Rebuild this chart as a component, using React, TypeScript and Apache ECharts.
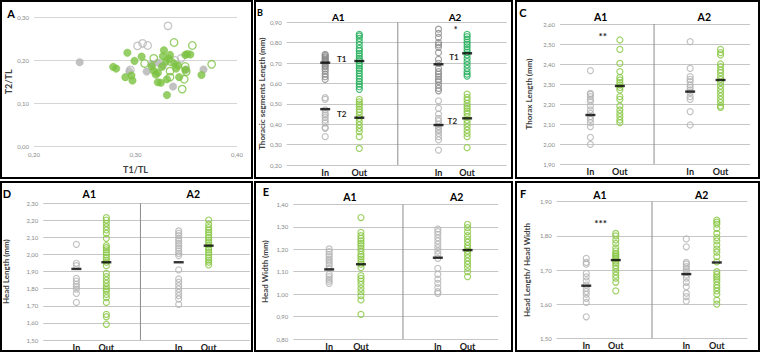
import React, { useEffect, useRef } from 'react';
import * as echarts from 'echarts';

const FONT = 'Lato, "Open Sans", "DejaVu Sans", sans-serif';
const comma = (v: number) => v.toFixed(2).replace('.', ',');

// ---------- Panel A: T2/TL against T1/TL ----------
const aGreyFilled: number[][] = [
  [0.245, 0.196], [0.294, 0.175], [0.311, 0.174], [0.316, 0.191], [0.322, 0.195],
  [0.337, 0.139], [0.350, 0.179], [0.367, 0.179], [0.327, 0.188],
];
const aGreyOpen: number[][] = [
  [0.332, 0.281], [0.302, 0.234], [0.307, 0.240], [0.312, 0.235], [0.295, 0.178],
  [0.345, 0.205], [0.339, 0.200],
];
const aGreenOpen: number[][] = [
  [0.338, 0.242], [0.356, 0.235], [0.309, 0.193], [0.318, 0.205], [0.335, 0.197],
  [0.334, 0.175], [0.334, 0.161], [0.348, 0.156], [0.346, 0.133], [0.375, 0.191],
  [0.349, 0.186], [0.350, 0.174],
];
const aGreenFilled: number[][] = [
  [0.278, 0.185], [0.281, 0.181], [0.292, 0.218], [0.299, 0.199], [0.290, 0.161],
  [0.296, 0.165], [0.297, 0.153], [0.306, 0.209], [0.318, 0.176], [0.320, 0.167],
  [0.322, 0.171], [0.322, 0.149], [0.325, 0.148], [0.326, 0.185], [0.327, 0.210],
  [0.328, 0.224], [0.330, 0.197], [0.334, 0.213], [0.331, 0.156], [0.331, 0.119],
  [0.338, 0.193], [0.340, 0.181], [0.343, 0.161], [0.349, 0.213], [0.351, 0.215],
  [0.354, 0.214], [0.349, 0.178], [0.365, 0.166], [0.316, 0.186], [0.333, 0.204],
  [0.342, 0.188],
];

// ---------- Panel B: thoracic segment lengths (mm) ----------
const bInA1T1 = [0.743, 0.738, 0.731, 0.725, 0.718, 0.712, 0.707, 0.699, 0.690, 0.682, 0.671, 0.661, 0.646, 0.633, 0.620];
const bInA1T2 = [0.530, 0.522, 0.470, 0.453, 0.445, 0.434, 0.420, 0.407, 0.384, 0.380, 0.339];
const bOutA1T1 = [0.841, 0.833, 0.821, 0.805, 0.789, 0.772, 0.761, 0.748, 0.735, 0.723, 0.712, 0.699, 0.686, 0.674, 0.663, 0.650, 0.636, 0.623, 0.610, 0.597, 0.584, 0.571];
const bOutA1T2 = [0.522, 0.510, 0.499, 0.486, 0.473, 0.460, 0.445, 0.429, 0.413, 0.396, 0.380, 0.364, 0.339, 0.281];
const bInA2T1 = [0.866, 0.846, 0.826, 0.800, 0.789, 0.777, 0.751, 0.718, 0.699, 0.674, 0.658, 0.646, 0.633, 0.620, 0.609, 0.592, 0.576, 0.564];
const bInA2T2 = [0.515, 0.478, 0.450, 0.429, 0.417, 0.401, 0.388, 0.375, 0.368, 0.355, 0.339, 0.323, 0.273];
const bOutA2T1 = [0.841, 0.830, 0.817, 0.803, 0.792, 0.780, 0.767, 0.754, 0.740, 0.723, 0.707, 0.691, 0.674, 0.658, 0.646, 0.636];
const bOutA2T2 = [0.548, 0.532, 0.519, 0.502, 0.489, 0.478, 0.465, 0.453, 0.437, 0.420, 0.404, 0.388, 0.371, 0.355, 0.339, 0.285];
// means in the order In A1, Out A1, In A2, Out A2
const bMeanT1 = [0.702, 0.710, 0.694, 0.748];
const bMeanT2 = [0.474, 0.432, 0.396, 0.429];

// ---------- Panel C: thorax length (mm) ----------
const cInA1 = [2.367, 2.253, 2.248, 2.237, 2.223, 2.212, 2.190, 2.170, 2.153, 2.137, 2.123, 2.107, 2.087, 2.033, 1.998];
const cOutA1 = [2.520, 2.473, 2.403, 2.362, 2.333, 2.320, 2.307, 2.295, 2.283, 2.270, 2.237, 2.223, 2.190, 2.170, 2.153, 2.137, 2.120, 2.107];
const cInA2 = [2.512, 2.378, 2.337, 2.323, 2.312, 2.295, 2.283, 2.270, 2.257, 2.237, 2.223, 2.162, 2.095];
const cOutA2 = [2.473, 2.457, 2.445, 2.400, 2.387, 2.370, 2.357, 2.340, 2.323, 2.307, 2.290, 2.273, 2.257, 2.240, 2.223, 2.207, 2.190, 2.183];
const cMean = [2.145, 2.290, 2.262, 2.320];

// ---------- Panel D: head length (mm) ----------
const dInA1 = [2.060, 1.949, 1.935, 1.861, 1.845, 1.826, 1.812, 1.798, 1.773, 1.720];
const dOutA1 = [2.216, 2.202, 2.183, 2.163, 2.144, 2.124, 2.095, 2.052, 2.040, 2.027, 2.013, 1.998, 1.982, 1.968, 1.955, 1.935, 1.890, 1.871, 1.851, 1.832, 1.812, 1.798, 1.787, 1.767, 1.748, 1.720, 1.650, 1.636, 1.592];
const dInA2 = [2.138, 2.124, 2.111, 2.095, 2.080, 2.066, 2.052, 2.037, 2.021, 2.007, 1.994, 1.910, 1.857, 1.838, 1.818, 1.799, 1.779, 1.760, 1.740, 1.709];
const dOutA2 = [2.202, 2.177, 2.158, 2.144, 2.130, 2.115, 2.099, 2.085, 2.072, 2.056, 2.040, 2.027, 2.013, 1.998, 1.982, 1.968, 1.955, 1.939];
const dMean = [1.916, 1.955, 1.955, 2.052];

// ---------- Panel E: head width (mm) ----------
const eInA1 = [1.201, 1.189, 1.177, 1.167, 1.156, 1.147, 1.137, 1.127, 1.115, 1.088, 1.078, 1.067, 1.058, 1.048];
const eOutA1 = [1.341, 1.275, 1.260, 1.248, 1.237, 1.226, 1.216, 1.204, 1.192, 1.177, 1.167, 1.156, 1.144, 1.133, 1.118, 1.082, 1.070, 1.058, 1.043, 1.026, 1.011, 0.993, 0.974, 0.910];
const eInA2 = [1.290, 1.278, 1.266, 1.251, 1.237, 1.222, 1.207, 1.192, 1.177, 1.159, 1.115, 1.088, 1.067, 1.048, 1.029, 1.011, 1.003];
const eOutA2 = [1.311, 1.296, 1.278, 1.260, 1.245, 1.231, 1.216, 1.204, 1.192, 1.177, 1.162, 1.147, 1.133, 1.118, 1.100, 1.078];
const eMean = [1.110, 1.133, 1.162, 1.196];

// ---------- Panel F: head length / head width ----------
const fInA1 = [1.734, 1.722, 1.717, 1.690, 1.680, 1.668, 1.656, 1.646, 1.637, 1.629, 1.617, 1.605, 1.563];
const fOutA1 = [1.807, 1.800, 1.788, 1.778, 1.765, 1.756, 1.749, 1.744, 1.739, 1.734, 1.726, 1.720, 1.713, 1.705, 1.695, 1.685, 1.676, 1.664, 1.639];
const fInA2 = [1.791, 1.768, 1.722, 1.717, 1.710, 1.703, 1.695, 1.685, 1.676, 1.664, 1.651, 1.632, 1.622, 1.609];
const fOutA2 = [1.846, 1.840, 1.834, 1.822, 1.807, 1.795, 1.785, 1.773, 1.761, 1.752, 1.739, 1.724, 1.695, 1.687, 1.680, 1.674, 1.666, 1.656, 1.648, 1.639, 1.629, 1.612, 1.600];
const fMean = [1.654, 1.729, 1.688, 1.722];

const groupLabels = ['In', 'Out', 'In', 'Out'];

const GREY = '#b3b3b3';
const GREY_DARK = '#8a8a8a';
const GREEN = '#86c540';
const GREEN_DARK = '#1fae58';

type Rect = { left: number; top: number; width: number; height: number };
type Group = { values: number[]; slot: number; color: string };
type DotPanel = {
  grid: Rect;
  yMin: number;
  yMax: number;
  yName: string;
  nameGap: number;
  slots: number[];
  sep: number;
  groups: Group[];
  means: number[][];
};

const dotPanels: DotPanel[] = [
  {
    grid: { left: 286.7, top: 22.3, width: 220, height: 142.7 },
    yMin: 0.2, yMax: 0.9, yName: 'Thoracic segments Length (mm)', nameGap: 20,
    slots: [0.35, 0.66, 1.38, 1.64], sep: 1.01,
    groups: [
      { values: bInA1T1, slot: 0, color: GREY_DARK },
      { values: bInA1T2, slot: 0, color: GREY },
      { values: bOutA1T1, slot: 1, color: GREEN_DARK },
      { values: bOutA1T2, slot: 1, color: GREEN },
      { values: bInA2T1, slot: 2, color: GREY_DARK },
      { values: bInA2T2, slot: 2, color: GREY },
      { values: bOutA2T1, slot: 3, color: GREEN_DARK },
      { values: bOutA2T2, slot: 3, color: GREEN },
    ],
    means: [bMeanT1, bMeanT2],
  },
  {
    grid: { left: 560, top: 24, width: 190, height: 140 },
    yMin: 1.9, yMax: 2.6, yName: 'Thorax Length (mm)', nameGap: 27,
    slots: [0.32, 0.63, 1.37, 1.69], sep: 0.99,
    groups: [
      { values: cInA1, slot: 0, color: GREY },
      { values: cOutA1, slot: 1, color: GREEN },
      { values: cInA2, slot: 2, color: GREY },
      { values: cOutA2, slot: 3, color: GREEN },
    ],
    means: [cMean],
  },
  {
    grid: { left: 43.3, top: 203.3, width: 206.7, height: 136.7 },
    yMin: 1.5, yMax: 2.3, yName: 'Head Length (mm)', nameGap: 33,
    slots: [0.32, 0.61, 1.31, 1.6], sep: 0.94,
    groups: [
      { values: dInA1, slot: 0, color: GREY },
      { values: dOutA1, slot: 1, color: GREEN },
      { values: dInA2, slot: 2, color: GREY },
      { values: dOutA2, slot: 3, color: GREEN },
    ],
    means: [dMean],
  },
  {
    grid: { left: 293.3, top: 204.3, width: 205, height: 134.7 },
    yMin: 0.8, yMax: 1.4, yName: 'Head Width (mm)', nameGap: 24,
    slots: [0.35, 0.66, 1.41, 1.7], sep: 1.07,
    groups: [
      { values: eInA1, slot: 0, color: GREY },
      { values: eOutA1, slot: 1, color: GREEN },
      { values: eInA2, slot: 2, color: GREY },
      { values: eOutA2, slot: 3, color: GREEN },
    ],
    means: [eMean],
  },
  {
    grid: { left: 556.7, top: 201.7, width: 190.6, height: 136.6 },
    yMin: 1.5, yMax: 1.9, yName: 'Head Length/ Head Width', nameGap: 26,
    slots: [0.31, 0.62, 1.36, 1.68], sep: 1.0,
    groups: [
      { values: fInA1, slot: 0, color: GREY },
      { values: fOutA1, slot: 1, color: GREEN },
      { values: fInA2, slot: 2, color: GREY },
      { values: fOutA2, slot: 3, color: GREEN },
    ],
    means: [fMean],
  },
];

const panelFrames: Rect[] = [
  { left: 1, top: 1, width: 251, height: 177 },
  { left: 255, top: 1, width: 257, height: 177 },
  { left: 516, top: 1, width: 243, height: 177 },
  { left: 1, top: 182, width: 251, height: 169 },
  { left: 255, top: 182, width: 257, height: 169 },
  { left: 516, top: 182, width: 243, height: 169 },
];

const panelLetters: { t: string; x: number; y: number; s: number }[] = [
  { t: 'A', x: 11, y: 13, s: 11 },
  { t: 'B', x: 260, y: 12, s: 9 },
  { t: 'C', x: 523, y: 12, s: 11 },
  { t: 'D', x: 7, y: 193, s: 11 },
  { t: 'E', x: 266, y: 191, s: 11 },
  { t: 'F', x: 523, y: 193, s: 11 },
];

const headers: { t: string; x: number; y: number; s: number }[] = [
  { t: 'A1', x: 338.3, y: 16.7, s: 10 },
  { t: 'A2', x: 455, y: 16.7, s: 10 },
  { t: 'A1', x: 600.7, y: 16.7, s: 10.5 },
  { t: 'A2', x: 704.3, y: 16.7, s: 10.5 },
  { t: 'A1', x: 89.3, y: 194.3, s: 10.5 },
  { t: 'A2', x: 193.3, y: 194.3, s: 10.5 },
  { t: 'A1', x: 350, y: 196.7, s: 10.5 },
  { t: 'A2', x: 456.7, y: 196.7, s: 10.5 },
  { t: 'A1', x: 600, y: 195, s: 10.5 },
  { t: 'A2', x: 701.7, y: 195, s: 10.5 },
];

const notes: { t: string; x: number; y: number; s: number }[] = [
  { t: 'T1', x: 341.7, y: 59, s: 8 },
  { t: 'T2', x: 341.7, y: 114, s: 8 },
  { t: 'T1', x: 454, y: 57.3, s: 8 },
  { t: 'T2', x: 452.3, y: 121, s: 8 },
  { t: '*', x: 455.7, y: 29, s: 9 },
  { t: '**', x: 602.7, y: 36, s: 10 },
  { t: '***', x: 600.7, y: 223, s: 10 },
];

function buildOption() {
  const grids: any[] = [];
  const xAxes: any[] = [];
  const yAxes: any[] = [];
  const series: any[] = [];

  const tickLabel = { fontSize: 6, color: '#8a8a8a', fontFamily: FONT, formatter: comma };
  const nameStyle = { fontSize: 8, fontWeight: 'bold', color: '#404040', fontFamily: FONT };
  const split = { show: true, lineStyle: { color: '#c6c6c6', width: 1 } };

  // Panel A scatter
  grids.push({ left: 34, top: 17.7, width: 203, height: 128.3 });
  xAxes.push({
    gridIndex: 0, type: 'value', min: 0.2, max: 0.4, interval: 0.1,
    axisLine: { show: false }, axisTick: { show: false }, splitLine: { show: false },
    axisLabel: { ...tickLabel, margin: 5 },
    name: 'T1/TL', nameLocation: 'middle', nameGap: 19,
    nameTextStyle: { ...nameStyle, fontSize: 9 },
  });
  yAxes.push({
    gridIndex: 0, type: 'value', min: 0, max: 0.3, interval: 0.1,
    axisLine: { show: false }, axisTick: { show: false },
    splitLine: { show: true, lineStyle: { color: '#d6d6d6', width: 1 } },
    axisLabel: { ...tickLabel, margin: 5 },
    name: 'T2/TL', nameLocation: 'middle', nameRotate: 90, nameGap: 19,
    nameTextStyle: { ...nameStyle, fontSize: 9 },
  });
  const scatterA = (data: number[][], color: string, filled: boolean) => ({
    type: 'scatter', xAxisIndex: 0, yAxisIndex: 0, data, symbol: 'circle', symbolSize: 7.5,
    itemStyle: filled
      ? { color, borderColor: color, borderWidth: 0.5 }
      : { color: 'rgba(255,255,255,0)', borderColor: color, borderWidth: 1.3 },
  });
  series.push(scatterA(aGreyOpen, '#b8b8b8', false));
  series.push(scatterA(aGreyFilled, '#b3b3b3', true));
  series.push(scatterA(aGreenFilled, '#7cc242', true));
  series.push(scatterA(aGreenOpen, '#7cc242', false));

  // Dot panels B-F
  dotPanels.forEach((p, k) => {
    const gi = k + 1;
    grids.push({ ...p.grid });
    const slots = p.slots;
    xAxes.push({
      gridIndex: gi, type: 'value', min: 0, max: 2,
      axisLine: { show: false }, axisTick: { show: false }, splitLine: { show: false },
      axisLabel: {
        customValues: slots,
        fontSize: 9, fontWeight: 'bold', color: '#1a1a1a', fontFamily: FONT, margin: 3,
        formatter: (v: number) => {
          let best = 0;
          slots.forEach((s, i) => { if (Math.abs(s - v) < Math.abs(slots[best] - v)) best = i; });
          return groupLabels[best];
        },
      },
    });
    yAxes.push({
      gridIndex: gi, type: 'value', min: p.yMin, max: p.yMax, interval: 0.1,
      axisLine: { show: false }, axisTick: { show: false }, splitLine: split,
      axisLabel: { ...tickLabel, margin: 5 },
      name: p.yName, nameLocation: 'middle', nameRotate: 90, nameGap: p.nameGap,
      nameTextStyle: nameStyle,
    });
    // separator between A1 and A2
    series.push({
      type: 'line', xAxisIndex: gi, yAxisIndex: gi, symbol: 'none', silent: true,
      data: [[p.sep, p.yMin], [p.sep, p.yMax]],
      lineStyle: { color: '#8c8c8c', width: 1 },
    });
    p.groups.forEach((g) => {
      series.push({
        type: 'scatter', xAxisIndex: gi, yAxisIndex: gi, symbol: 'circle', symbolSize: 6,
        data: g.values.map((v) => [slots[g.slot], v]),
        itemStyle: { color: 'rgba(255,255,255,0)', borderColor: g.color, borderWidth: 1.2 },
      });
    });
    p.means.forEach((m) => {
      series.push({
        type: 'scatter', xAxisIndex: gi, yAxisIndex: gi, symbol: 'rect', symbolSize: [10, 2.4],
        z: 5, data: m.map((v, i) => [slots[i], v]),
        itemStyle: { color: '#000' },
      });
    });
  });

  const graphic: any[] = [];
  panelFrames.forEach((r) => {
    graphic.push({
      type: 'rect', silent: true, z: 100,
      shape: { x: r.left, y: r.top, width: r.width, height: r.height },
      style: { fill: 'none', stroke: '#000', lineWidth: 2 },
    });
  });
  const addText = (o: { t: string; x: number; y: number; s: number }, color = '#000') =>
    graphic.push({
      type: 'text', x: o.x, y: o.y, z: 100, silent: true,
      style: {
        text: o.t, fontSize: o.s, fontWeight: 'bold', fontFamily: FONT, fill: color,
        textAlign: 'center', textVerticalAlign: 'middle',
      },
    });
  panelLetters.forEach((o) => addText(o));
  headers.forEach((o) => addText(o));
  notes.forEach((o) => addText(o, '#262626'));

  return {
    animation: false,
    backgroundColor: '#ffffff',
    textStyle: { fontFamily: FONT },
    grid: grids,
    xAxis: xAxes,
    yAxis: yAxes,
    series,
    graphic,
  };
}

export default function App() {
  const ref = useRef<HTMLDivElement>(null);
  useEffect(() => {
    document.body.style.margin = '0';
    if (!ref.current) return;
    const chart = echarts.init(ref.current, undefined, { renderer: 'svg' });
    chart.setOption(buildOption() as any);
    return () => chart.dispose();
  }, []);
  return <div ref={ref} style={{ width: 761, height: 352 }} />;
}
